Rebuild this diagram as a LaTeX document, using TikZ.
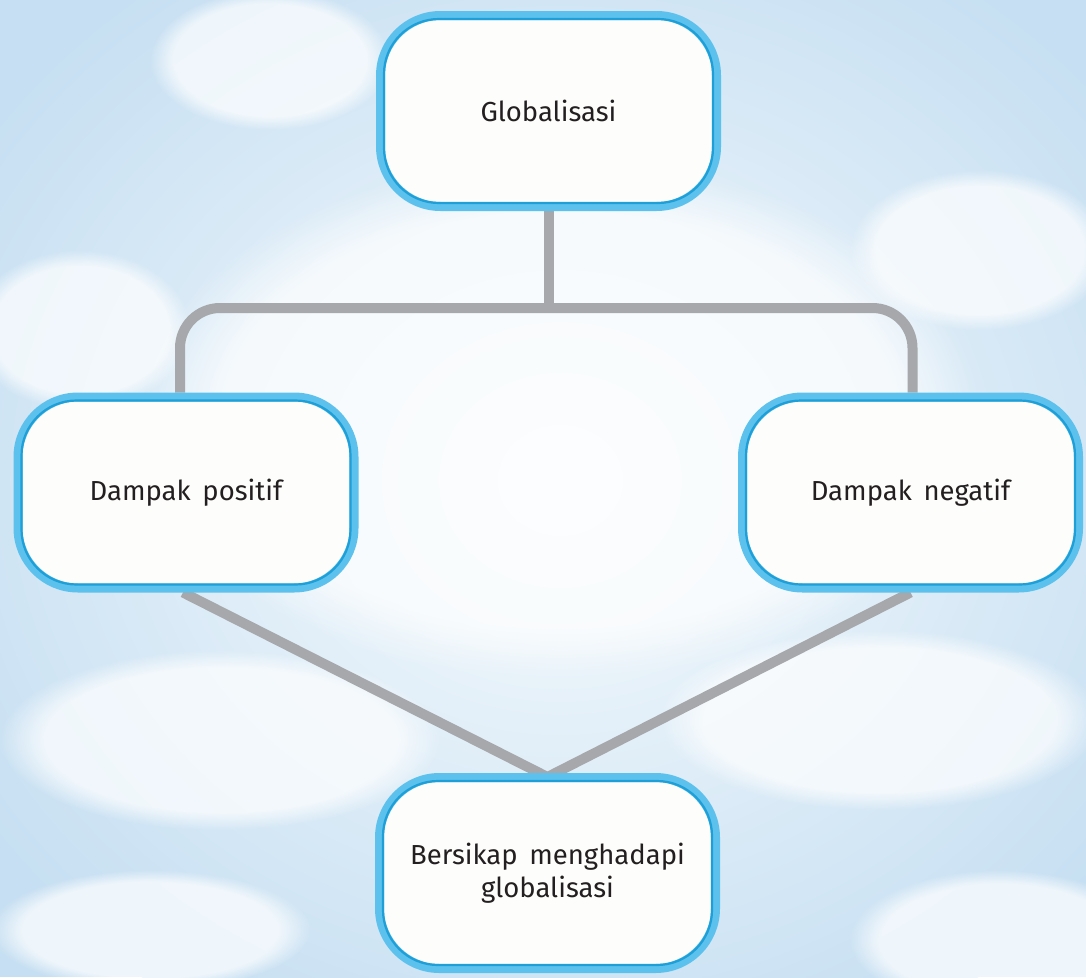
\documentclass[tikz,border=0pt]{standalone}
\usepackage{fontspec}
\setmainfont{Fira Sans}[WordSpace=1.6]
\usetikzlibrary{fadings}
\definecolor{sky}{HTML}{C6DFF2}
\definecolor{skylight}{HTML}{F7FBFD}
\definecolor{boxline}{HTML}{5CC1EC}
\definecolor{boxinner}{HTML}{1E9FD8}
\definecolor{conn}{HTML}{A6A8AB}
\definecolor{txt}{HTML}{231F20}
\definecolor{boxfill}{HTML}{FDFDFB}
\pgfdeclarelayer{skylayer}
\pgfdeclarelayer{links}
\pgfsetlayers{skylayer,links,main}
\newcommand\boxrim[1]{\draw[rim] ([shift={(8,8)}]#1.north west) rectangle ([shift={(-8,-8)}]#1.south east);}
\begin{document}
\begin{tikzpicture}[x=1pt,y=-1pt,
  box/.style={draw=boxline, fill=boxfill, line width=9pt, rounded corners=60pt,
    minimum width=336pt, minimum height=191pt, inner sep=0pt,
    font=\fontsize{27.5}{33}\selectfont, text=txt, align=center},
  rim/.style={draw=boxinner, line width=2.2pt, rounded corners=55pt},
  link/.style={draw=conn, line width=10pt, line join=round},
  cloud/.style={fill=white, path fading=circle with fuzzy edge 20 percent, opacity=0.7}]
\useasboundingbox (0,0) rectangle (1086,977);
\begin{pgfonlayer}{skylayer}
  \begin{scope}
    \clip (0,0) rectangle (1086,977);
    \fill[sky] (0,0) rectangle (1086,977);
    \shade[inner color=skylight, outer color=sky] (560,480) ellipse (700 and 620);
    \fill[cloud] (560,420) ellipse (420 and 260);
    \fill[cloud] (270,60) ellipse (120 and 70);
    \fill[cloud] (80,330) ellipse (110 and 80);
    \fill[cloud] (980,250) ellipse (130 and 80);
    \fill[cloud] (220,740) ellipse (220 and 90);
    \fill[cloud] (880,720) ellipse (220 and 90);
    \fill[cloud] (1000,940) ellipse (150 and 70);
    \fill[cloud] (150,930) ellipse (160 and 60);
  \end{scope}
\end{pgfonlayer}

\node[box] (T) at (548.5,111) {Globalisasi};
\node[box] (L) at (186,492.5) {Dampak positif};
\node[box] (R) at (910.5,492.5) {Dampak negatif};
\node[box] (B) at (547.5,873) {Bersikap menghadapi\\globalisasi};
\boxrim{T}
\boxrim{L}
\boxrim{R}
\boxrim{B}
\coordinate (hub) at (548.5,308);

\begin{pgfonlayer}{links}
  \draw[link] (T.south) -- (hub);
  \draw[link, rounded corners=40pt] ([xshift=-6pt]L.north) |- (hub) -| ([xshift=2pt]R.north);
  \draw[link] ([xshift=-3pt]L.south) -- ([yshift=-4pt]B.north) -- (R.south);
\end{pgfonlayer}
\end{tikzpicture}
\end{document}
